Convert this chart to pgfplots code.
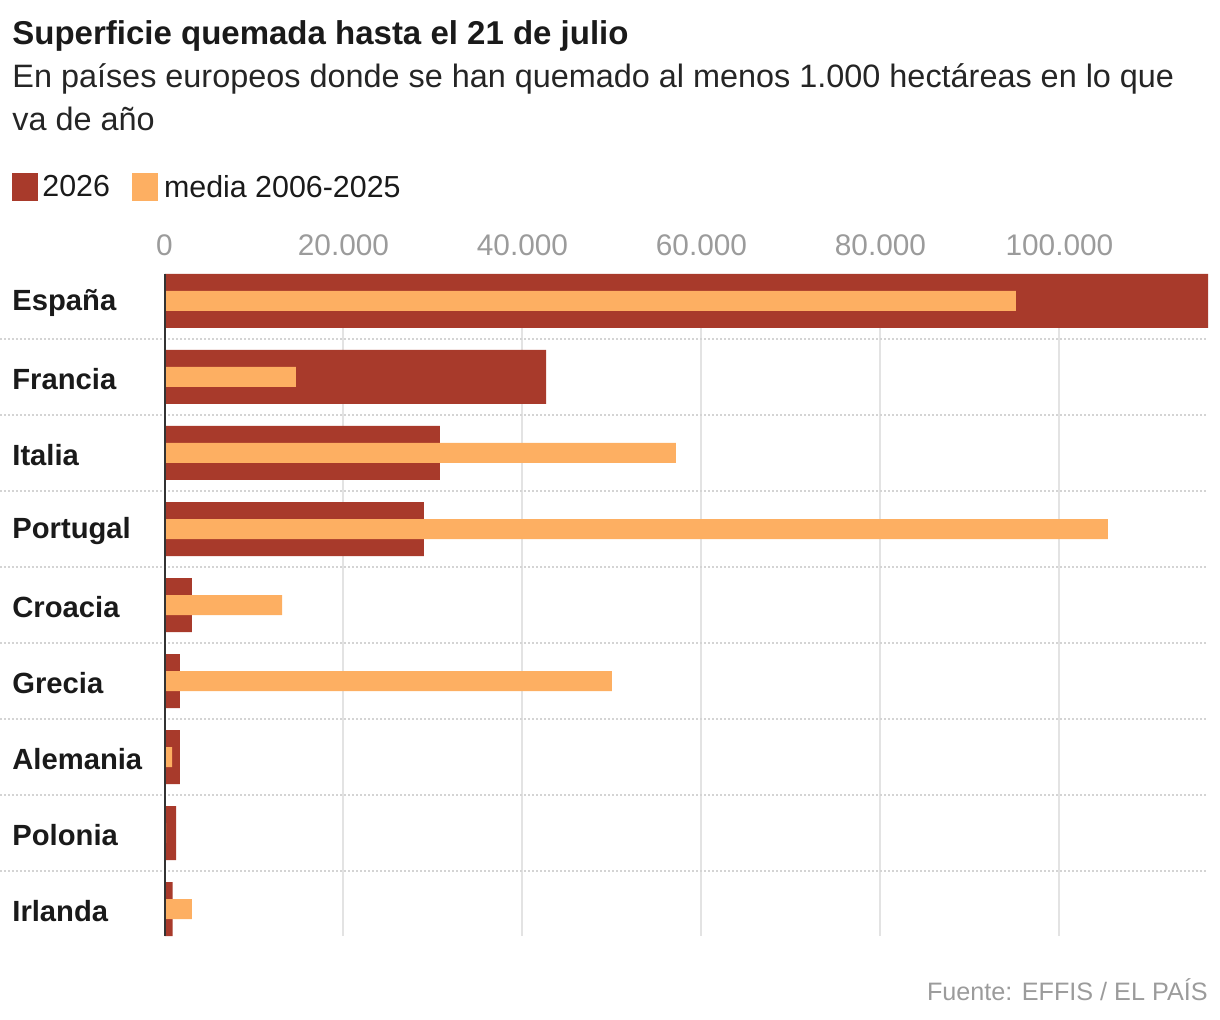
\documentclass[border=0pt]{standalone}
\usepackage{pgfplots}
\pgfplotsset{compat=1.18}
\usepackage{fontspec}
\setmainfont{Liberation Sans}
\definecolor{rojo}{HTML}{A83A2B}
\definecolor{naranja}{HTML}{FDAF62}
\definecolor{gristick}{HTML}{9B9B9B}
\definecolor{gridc}{HTML}{E3E3E3}
\definecolor{sepc}{HTML}{D4D4D4}
\definecolor{negro}{HTML}{1A1A1A}
\definecolor{ejec}{HTML}{333333}
\begin{document}
\begin{tikzpicture}
\path[use as bounding box] (0,0) rectangle (610pt,-510pt);
\begin{axis}[
  at={(82.25pt,-468pt)}, anchor=south west,
  scale only axis, width=521.75pt, height=331pt,
  xbar, clip=false,
  xmin=0, xmax=116600, ymin=-0.35526, ymax=8.35526, y dir=reverse,
  axis line style={draw=none}, tick style={draw=none},
  major tick length=0pt,
  scaled x ticks=false,
  xticklabel pos=upper,
  xtick={0,20000,40000,60000,80000,100000},
  xticklabels={0,20.000,40.000,60.000,80.000,100.000},
  xmajorgrids, grid style={gridc, line width=1pt},
  ytick={0,1,2,3,4,5,6,7,8},
  yticklabels={España,Francia,Italia,Portugal,Croacia,Grecia,Alemania,Polonia,Irlanda},
  yticklabel style={anchor=west, xshift=-76.25pt, yshift=-1pt, inner sep=0pt, font=\bfseries\fontsize{14.6}{16}\selectfont, text=negro},
  xticklabel style={anchor=south, yshift=9pt, inner sep=0pt, font=\fontsize{14.9}{16}\selectfont, text=gristick},
  legend style={at={(-0.14614,1.13066)}, anchor=west, draw=none, fill=none, inner sep=0pt,
    font=\fontsize{15.2}{17}\selectfont, text=negro,
    /tikz/every even column/.append style={column sep=9pt}},
  legend columns=2,
]
\addplot[fill=rojo, draw=none, bar width=27pt, bar shift=0pt,
  legend image code/.code={\fill[rojo] (0pt,-7pt) rectangle (13pt,7pt);}]
  coordinates {(116600,0) (42630,1) (30780,2) (28990,3) (3070,4) (1730,5) (1730,6) (1290,7) (900,8)};
\addlegendentry{2026}
\addplot[fill=naranja, draw=none, bar width=10pt, bar shift=0pt,
  legend image code/.code={\fill[naranja] (0pt,-7pt) rectangle (13pt,7pt);}]
  coordinates {(95140,0) (14690,1) (57150,2) (105420,3) (13130,4) (50000,5) (840,6) (170,7) (3070,8)};
\addlegendentry{\hspace{1pt}media 2006-2025}
\pgfplotsinvokeforeach{0.5,1.5,2.5,3.5,4.5,5.5,6.5,7.5}{
  \draw[sepc, line width=1pt, dash pattern=on 1pt off 1pt] ([xshift=-82.25pt]axis cs:0,#1) -- (axis cs:116600,#1);
}
\draw[ejec, line width=1pt] (axis cs:0,-0.35526) -- (axis cs:0,8.35526);
\end{axis}
\node[anchor=base west, inner sep=0pt, font=\bfseries\fontsize{16.5}{20}\selectfont, text=negro] at (6pt,-22.5pt) {Superficie quemada hasta el 21 de julio};
\node[anchor=base west, inner sep=0pt, font=\fontsize{16.2}{20}\selectfont, text=negro!95] at (6pt,-44pt) {En países europeos donde se han quemado al menos 1.000 hectáreas en lo que};
\node[anchor=base west, inner sep=0pt, font=\fontsize{16.2}{20}\selectfont, text=negro!95] at (6pt,-65.5pt) {va de año};
\node[anchor=base east, inner sep=0pt, font=\fontsize{12.6}{15}\selectfont, text=gristick] at (604pt,-500pt) {Fuente: EFFIS / EL PAÍS};
\end{tikzpicture}
\end{document}
